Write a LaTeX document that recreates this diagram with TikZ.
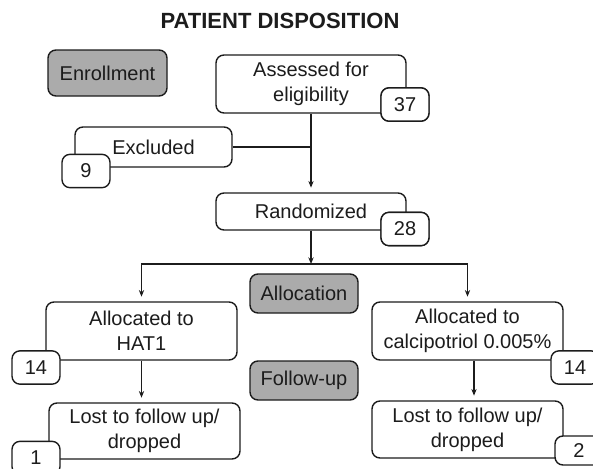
\documentclass[tikz,border=0pt]{standalone}
\usepackage{fontspec}
\setmainfont{Liberation Sans}
\usetikzlibrary{arrows.meta,calc}
\definecolor{ink}{HTML}{1C1C1C}
\definecolor{phase}{HTML}{ABABAB}
\begin{document}
\begin{tikzpicture}[x=0.75pt,y=-0.75pt,
  box/.style={draw=ink,line width=1.05pt,rounded corners=6pt,fill=white,inner sep=0pt,align=center,text=ink,font=\fontsize{15}{18.5}\selectfont},
  phasebox/.style={box,fill=phase},
  badge/.style={box,minimum width=36pt,minimum height=25pt},
  conn/.style={draw=ink,line width=1.05pt},
  arr/.style={conn,-{Stealth[length=5pt,width=4pt]},shorten >=3.5pt}
]
\useasboundingbox (0,0) rectangle (593,468);
\node[font=\bfseries\fontsize{16.5}{18}\selectfont,text=ink] (title) at (280,21) {PATIENT DISPOSITION};

\node[phasebox,minimum width=119*0.75pt,minimum height=46*0.75pt] (enroll) at (107.5,73) {Enrollment};
\node[box,minimum width=190*0.75pt,minimum height=58*0.75pt] (assess) at (311,84) {Assessed for\\eligibility};
\node[badge] (b37) at (405,104.5) {37};
\node[box,minimum width=157*0.75pt,minimum height=40*0.75pt] (excl) at (153.5,147) {Excluded};
\node[badge] (b9) at (86,171) {9};
\node[box,minimum width=190*0.75pt,minimum height=37*0.75pt] (rand) at (311,211.5) {Randomized};
\node[badge] (b28) at (405,229) {28};

\node[phasebox,minimum width=108*0.75pt,minimum height=39*0.75pt] (alloc) at (304,293.5) {Allocation};
\node[phasebox,minimum width=108*0.75pt,minimum height=39*0.75pt] (follow) at (304,380.5) {Follow-up};

\node[box,minimum width=191*0.75pt,minimum height=58*0.75pt] (hat) at (141.5,331) {Allocated to\\HAT1};
\node[badge] (b14l) at (36,367.5) {14};
\node[box,minimum width=191*0.75pt,minimum height=58*0.75pt] (calc) at (467.5,331) {Allocated to\\calcipotriol 0.005\%};
\node[badge] (b14r) at (575,367.5) {14};

\node[box,minimum width=191*0.75pt,minimum height=56*0.75pt] (lostl) at (144.5,431) {Lost to follow up/\\dropped};
\node[badge] (b1) at (36,458) {1};
\node[box,minimum width=191*0.75pt,minimum height=57*0.75pt] (lostr) at (467.5,429.5) {Lost to follow up/\\dropped};
\node[badge,minimum height=29*0.75pt] (b2) at (579,450.5) {2};

% connectors
\draw[arr] (assess.south) -- (rand.north);
\draw[conn] (excl.east) -- (assess.south |- excl.east);
\coordinate (junc) at (rand.south |- 0,264);
\draw[arr,shorten >=0pt] (rand.south) -- (junc);
\draw[arr] (junc) -| (hat.north);
\draw[arr] (junc) -| (calc.north);
\draw[arr] (hat.south) -- (hat.south |- lostl.north);
\draw[arr] ($(calc.south)+(6.5,0)$) -- ($(lostr.north)+(6.5,0)$);

% redraw badges on top of connectors
\node[badge] at (b37) {37};
\node[badge] at (b28) {28};
\end{tikzpicture}
\end{document}
